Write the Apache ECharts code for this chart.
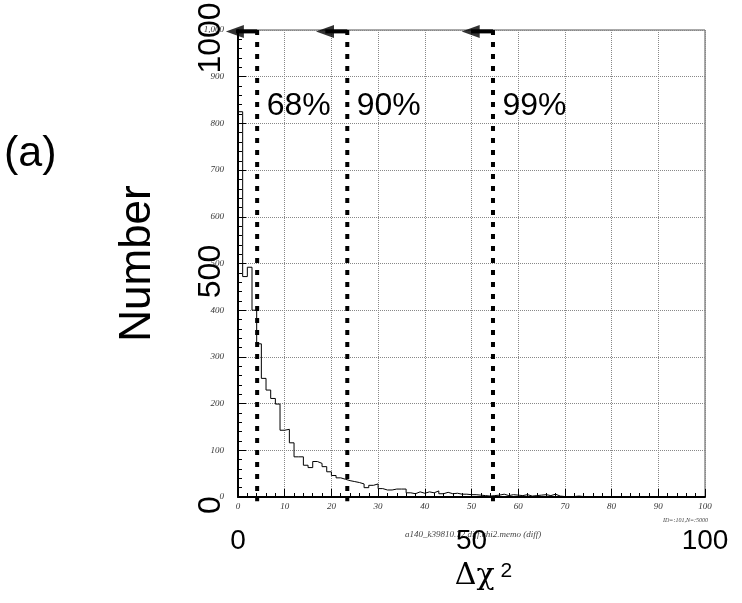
<!DOCTYPE html>
<html><head><meta charset="utf-8">
<script src="https://cdn.jsdelivr.net/npm/echarts@6/dist/echarts.min.js"></script>
<style>html,body{margin:0;padding:0;background:#fff}#c{width:742px;height:603px}</style>
</head><body><div id="c"></div>
<script>
// ---- data ----
const binStart = 0;
const binWidth = 1;
const counts = [
  825, 472, 492, 400, 328, 254, 229, 211, 199, 143,
  145, 116, 86, 86, 68, 63, 76, 72, 65, 54,
  46, 41, 38, 35, 33, 31, 28, 20, 25, 28,
  18, 15, 15, 17, 17, 17, 9, 7, 11, 8,
  11, 9, 13, 7, 10, 7, 8, 6, 6, 5,
  5, 4, 3, 2, 3, 4, 6, 3, 5, 4,
  3, 5, 2, 3, 4, 5, 3, 6, 2, 1,
  1, 1, 2, 1, 1, 0, 1, 1, 0, 1,
  1, 0, 1, 0, 0, 1, 0, 0, 1, 0,
  0, 1, 0, 0, 0, 1, 0, 0, 0, 0
];
const cutValues = [4.1, 23.4, 54.6];
const cutLabels = ['68%', '90%', '99%'];
const xBigTicks = [0, 50, 100];
const yBigTicks = [0, 500, 1000];
const xTitleMain = 'Δχ';
const xTitleSup = '2';
const yTitle = 'Number';
const panelLabel = '(a)';
const histTitle = 'a140_k39810.72.diff.chi2.memo (diff)';
const statsText = 'ID=:101,N=:5000';

// ---- build ----
const histPts = [[binStart, 0]];
counts.forEach((c, i) => histPts.push([binStart + i * binWidth, c]));
histPts.push([binStart + counts.length * binWidth, counts[counts.length - 1]]);

const SANS = 'Liberation Sans, Arial, sans-serif';
const SERIF = 'Liberation Serif, Times New Roman, serif';
const arrowLen = 6.7, arrowY = 997, lineBottom = -9, labelY = 836;

const series = [{
  type: 'line', step: 'end', data: histPts, symbol: 'none',
  lineStyle: { color: '#000', width: 1 }, z: 3, silent: true
}];
cutValues.forEach(c => {
  series.push({
    type: 'line', data: [[c, 1000], [c, lineBottom]], symbol: 'none', clip: false,
    lineStyle: { color: '#000', width: 4, type: [5, 7] }, z: 5, silent: true
  });
  series.push({
    type: 'line', data: [[c, arrowY], [c - arrowLen + 2, arrowY]], symbol: 'none', clip: false,
    lineStyle: { color: '#000', width: 4 }, z: 5, silent: true
  });
});
series.push({
  type: 'scatter', clip: false, silent: true, z: 6,
  data: cutValues.map(c => [c - arrowLen, arrowY]),
  symbol: 'path://M0,50 L100,0 L100,100 Z', symbolSize: [18, 13], symbolOffset: [9, 0],
  itemStyle: { color: '#000' }
});
series.push({
  type: 'scatter', clip: false, silent: true, z: 6,
  data: cutValues.map((c, i) => ({ value: [c, labelY], name: cutLabels[i] })),
  symbolSize: 1, itemStyle: { color: 'transparent' },
  label: { show: true, position: 'right', distance: 9, formatter: '{b}', opacity: 1,
    fontFamily: SANS, fontSize: 32, color: '#000', textBorderWidth: 0 }
});

const smallLabel = { fontFamily: SERIF, fontStyle: 'italic', fontSize: 9, color: '#333' };

const option = {
  animation: false,
  backgroundColor: '#fff',
  grid: { left: 238, top: 30, width: 467, height: 467, show: true,
    borderColor: '#555', borderWidth: 1, outerBoundsMode: 'none', containLabel: false },
  xAxis: [{
    type: 'value', min: 0, max: 100, interval: 10, position: 'bottom',
    axisLine: { lineStyle: { color: '#000', width: 2 } },
    axisTick: { inside: true, length: 8, lineStyle: { color: '#000' } },
    minorTick: { show: true, splitNumber: 5, length: 4, lineStyle: { color: '#000' } },
    splitLine: { show: true, lineStyle: { type: 'dotted', color: '#888', width: 1 } },
    axisLabel: Object.assign({ margin: 5 }, smallLabel),
    name: '{a|' + xTitleMain + '}{s| ' + xTitleSup + '}',
    nameLocation: 'middle', nameGap: 64, nameMoveOverlap: false,
    nameTextStyle: { padding: [0, 0, 0, 24], rich: {
      a: { fontFamily: 'DejaVu Serif, serif', fontSize: 30, color: '#000' },
      s: { fontFamily: SANS, fontSize: 21, color: '#000', verticalAlign: 'top' } } }
  }, {
    type: 'value', min: 0, max: 100, interval: 50, position: 'bottom',
    axisLine: { show: false }, axisTick: { show: false }, splitLine: { show: false },
    axisLabel: { margin: 30, fontFamily: SANS, fontSize: 28, color: '#000',
      formatter: v => xBigTicks.includes(v) ? String(v) : '' }
  }],
  yAxis: [{
    type: 'value', min: 0, max: 1000, interval: 100, position: 'left',
    axisLine: { show: true, lineStyle: { color: '#000', width: 2 } },
    axisTick: { show: true, inside: true, length: 8, lineStyle: { color: '#000' } },
    minorTick: { show: true, splitNumber: 5, length: 4, lineStyle: { color: '#000' } },
    splitLine: { show: true, lineStyle: { type: 'dotted', color: '#888', width: 1 } },
    axisLabel: Object.assign({ margin: 14 }, smallLabel),
    name: yTitle, nameLocation: 'middle', nameGap: 78, nameRotate: 90, nameMoveOverlap: false,
    nameTextStyle: { fontFamily: SANS, fontSize: 44, color: '#000', padding: [0, 0, 0, 0] }
  }, {
    type: 'value', min: 0, max: 1000, interval: 500, position: 'left',
    axisLine: { show: false }, axisTick: { show: false }, splitLine: { show: false },
    axisLabel: { margin: 11, rotate: 90, fontFamily: SANS, fontSize: 32, color: '#000',
      padding: [0, 16, 0, 0],
      formatter: v => yBigTicks.includes(v) ? String(v) : '' }
  }],
  graphic: [
    { type: 'text', left: 4, top: 133, z: 0, style: { text: panelLabel, font: '43px ' + SANS, fill: '#000' } },
    { type: 'text', x: 405, y: 535, z: 0, style: { text: histTitle, font: 'italic 9px ' + SERIF, fill: '#444', verticalAlign: 'middle' } },
    { type: 'text', x: 663, y: 520, z: 0, style: { text: statsText, font: 'italic 6px ' + SERIF, fill: '#444', verticalAlign: 'middle' } }
  ],
  series: series
};
const chart = echarts.init(document.getElementById('c'), null, { renderer: 'canvas' });
chart.setOption(option);
</script></body></html>
